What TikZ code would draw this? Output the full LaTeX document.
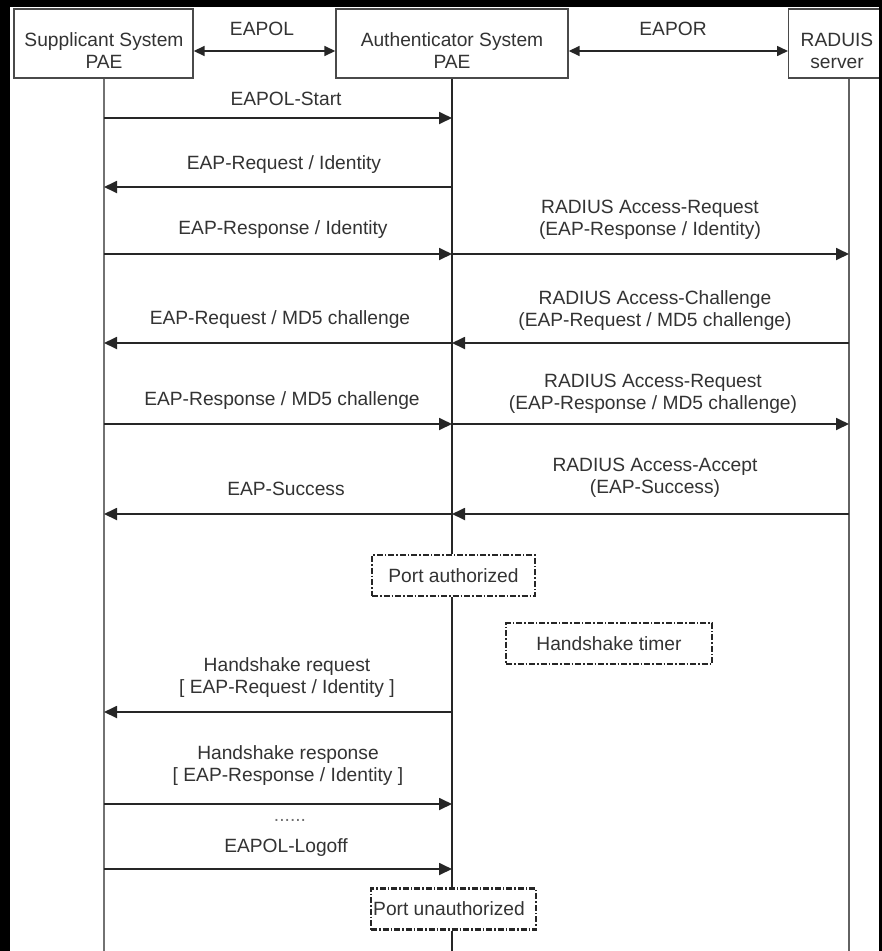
\documentclass[tikz,border=0pt]{standalone}
\usepackage{fontspec}
\setmainfont{Liberation Sans}
\usetikzlibrary{arrows.meta}
\definecolor{ink}{HTML}{333333}
\definecolor{wire}{HTML}{262626}
\definecolor{boxline}{HTML}{4A4A4A}
\definecolor{lifeS}{HTML}{727272}
\definecolor{lifeR}{HTML}{626262}
\begin{document}
\begin{tikzpicture}[x=1pt,y=-1pt,
  every node/.style={font=\fontsize{19.2}{22}\selectfont, text=ink, inner sep=0pt},
  entity/.style={draw=boxline, line width=1.4pt, fill=white, minimum height=69pt},
  msg/.style={draw=wire, line width=1.8pt, -{Triangle[length=13pt,width=12pt]}},
  link/.style={draw=wire, line width=1.6pt, {Triangle[length=11pt,width=10pt]}-{Triangle[length=11pt,width=10pt]}},
  life/.style={line width=1.6pt},
  statebox/.style={draw=wire, line width=2.4pt, fill=white,
    dash pattern=on 6pt off 2pt on 1.5pt off 2pt, minimum height=41pt},
  lbl/.style={anchor=base},
  lbl2/.style={align=center}]

% frame
\useasboundingbox (0,0) rectangle (882,951);
\fill[black] (0,0) rectangle (882,951);
\fill[white] (10,7) rectangle (879,951);

% participants
\node[entity, minimum width=179pt] (sup) at (103.5,43.5) {};
\node[entity, minimum width=232pt] (auth) at (452,43.5) {};
\node[entity, minimum width=110pt, anchor=west] (rad) at (788,43.5) {};
\node[lbl2] (suptxt) at (104,51) {Supplicant System\\PAE};
\node[lbl2] (authtxt) at (452,51) {Authenticator System\\PAE};
\node[lbl2] (radtxt) at (837,51) {RADUIS\\server};

% protocols between participants
\draw[link] (sup.east |- 0,51) -- (auth.west |- 0,51);
\draw[link] (auth.east |- 0,51) -- (rad.west |- 0,51);
\node[lbl] (eapol) at (262,35) {EAPOL};
\node[lbl] (eapor) at (673,35) {EAPOR};

% port state boxes on the authenticator lifeline
\node[statebox, minimum width=163pt] (pa) at (453.5,575.5) {Port authorized};
\node[statebox, minimum width=206pt] (ht) at (609,643.5) {Handshake timer};
\node[statebox, minimum width=165pt] (pu) at (453.5,909) {};
\node[anchor=west] (putxt) at (373,909) {Port unauthorized};

% lifelines
\coordinate (sEnd) at (104,951);
\coordinate (aEnd) at (452,951);
\coordinate (rEnd) at (849,951);
\draw[life, draw=lifeS, line width=2.2pt] (sup.south -| sEnd) -- (sEnd);
\draw[life, draw=wire] (auth.south -| aEnd) -- (pa.north -| aEnd);
\draw[life, draw=wire] (pa.south -| aEnd) -- (pu.north -| aEnd);
\draw[life, draw=wire] (pu.south -| aEnd) -- (aEnd);
\draw[life, draw=lifeR, line width=2pt] (rad.south -| rEnd) -- (rEnd);

% message end points on the lifelines
\foreach \m/\y in {m1/118, m2/187, m3/254, m4/343, m5/424, m6/514, m7/712, m8/804, m9/869} {
  \coordinate (s\m) at (104,\y);
  \coordinate (a\m) at (452,\y);
  \coordinate (r\m) at (849,\y);
}

% messages
\draw[msg] (sm1) -- (am1);
\draw[msg] (am2) -- (sm2);
\draw[msg] (sm3) -- (am3);
\draw[msg] (am3) -- (rm3);
\draw[msg] (am4) -- (sm4);
\draw[msg] (rm4) -- (am4);
\draw[msg] (sm5) -- (am5);
\draw[msg] (am5) -- (rm5);
\draw[msg] (am6) -- (sm6);
\draw[msg] (rm6) -- (am6);
\draw[msg] (am7) -- (sm7);
\draw[msg] (sm8) -- (am8);
\draw[msg] (sm9) -- (am9);

% message labels
\node[lbl] (l1) at (286,105) {EAPOL-Start};
\node[lbl] (l2) at (284,169) {EAP-Request / Identity};
\node[lbl] (l3) at (283,234) {EAP-Response / Identity};
\node[lbl2] (r3) at (650,220) {RADIUS Access-Request\\(EAP-Response / Identity)};
\node[lbl] (l4) at (280,324) {EAP-Request / MD5 challenge};
\node[lbl2] (r4) at (655,311) {RADIUS Access-Challenge\\(EAP-Request / MD5 challenge)};
\node[lbl] (l5) at (282,405) {EAP-Response / MD5 challenge};
\node[lbl2] (r5) at (653,394) {RADIUS Access-Request\\(EAP-Response / MD5 challenge)};
\node[lbl] (l6) at (286,495) {EAP-Success};
\node[lbl2] (r6) at (655,478) {RADIUS Access-Accept\\(EAP-Success)};
\node[lbl2] (l7) at (287,678) {Handshake request\\{[} EAP-Request / Identity ]};
\node[lbl2] (l8) at (288,766) {Handshake response\\{[} EAP-Response / Identity ]};
\node[lbl, text=ink!70] (dots) at (290,821) {......};
\node[lbl] (l9) at (286,852) {EAPOL-Logoff};

% right edge of the frame over the server box
\fill[black] (879,0) rectangle (882,951);
\end{tikzpicture}
\end{document}
